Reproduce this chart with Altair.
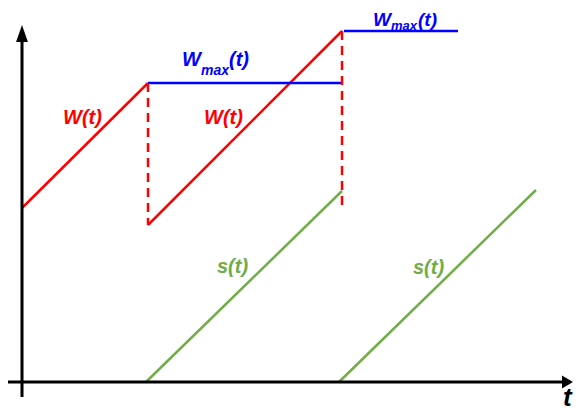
import altair as alt
import pandas as pd

# ---- data (t in time units, W in window units; origin at axis crossing) ----
# W(t): window growth segments
w_seg = ["w1", "w1", "w2", "w2"]
w_t = [0.0, 12.6, 12.6, 32.0]
w_val = [17.4, 29.9, 15.7, 35.1]

# window drops (dashed)
drop_seg = ["d1", "d1", "d2", "d2"]
drop_t = [12.6, 12.6, 32.0, 32.0]
drop_val = [29.9, 15.7, 35.1, 17.2]

# W_max(t)
wmax_seg = ["m1", "m1", "m2", "m2"]
wmax_t = [12.6, 31.9, 32.2, 43.6]
wmax_val = [29.9, 29.9, 35.1, 35.1]

# s(t)
s_seg = ["s1", "s1", "s2", "s2"]
s_t = [12.4, 32.0, 31.7, 51.4]
s_val = [0.0, 19.1, 0.0, 19.2]

# axis lines
axis_seg = ["x", "x", "y", "y"]
axis_t = [-1.5, 54.2, 0.0, 0.0]
axis_val = [0.0, 0.0, -1.5, 34.0]

# arrow heads
arrow_t = [54.55, 0.0]
arrow_val = [0.0, 34.85]
arrow_shape = ["M-0.85,-1L0.85,0L-0.85,1Z", "M0,-1L0.7,1L-0.7,1Z"]
arrow_size = [169, 289]

# labels
lab_text = ["W(t)", "W(t)", "W", "max", "(t)", "W", "max", "(t)", "s(t)", "s(t)", "t"]
lab_t = [4.1, 18.2, 16.0, 17.9, 20.7, 35.1, 36.9, 39.6, 19.5, 39.1, 54.1]
lab_val = [25.8, 25.8, 31.6, 30.7, 31.6, 35.65, 35.25, 35.65, 10.9, 10.8, -2.4]
lab_color = ["#FF0000", "#FF0000", "#0000FF", "#0000FF", "#0000FF",
             "#0000FF", "#0000FF", "#0000FF", "#70AD47", "#70AD47", "#000000"]
lab_size = [20, 20, 20, 14, 20, 19, 13, 19, 20, 20, 26]

RED = "#FF0000"
BLUE = "#0000FF"
GREEN = "#70AD47"

xs = alt.Scale(domain=[-1.4, 55.1], nice=False, zero=False)
ys = alt.Scale(domain=[-2.9, 37.4], nice=False, zero=False)


def seg_df(seg, t, v):
    return pd.DataFrame({"seg": seg, "t": t, "W": v})


def lines(df, color, width, dash=None):
    kw = dict(color=color, strokeWidth=width, strokeCap="butt")
    if dash:
        kw["strokeDash"] = dash
    return alt.Chart(df).mark_line(**kw).encode(
        x=alt.X("t:Q", scale=xs, axis=None),
        y=alt.Y("W:Q", scale=ys, axis=None),
        detail="seg:N",
    )


axes = lines(seg_df(axis_seg, axis_t, axis_val), "#000000", 3)
w_lines = lines(seg_df(w_seg, w_t, w_val), RED, 2.5)
drops = lines(seg_df(drop_seg, drop_t, drop_val), RED, 2.5, [9, 6])
wmax = lines(seg_df(wmax_seg, wmax_t, wmax_val), BLUE, 2.5)
s_lines = lines(seg_df(s_seg, s_t, s_val), GREEN, 2.5)

arrows = alt.layer(*[
    alt.Chart(pd.DataFrame({"t": [arrow_t[i]], "W": [arrow_val[i]]})).mark_point(
        shape=arrow_shape[i], size=arrow_size[i], filled=True, color="#000000",
        opacity=1, strokeWidth=0
    ).encode(
        x=alt.X("t:Q", scale=xs, axis=None),
        y=alt.Y("W:Q", scale=ys, axis=None),
    )
    for i in range(2)
])

labels_df = pd.DataFrame({
    "text": lab_text, "t": lab_t, "W": lab_val,
    "color": lab_color, "size": lab_size,
})
labels = alt.Chart(labels_df).mark_text(
    align="left", baseline="alphabetic", font="Liberation Sans",
    fontStyle="italic", fontWeight="bold",
).encode(
    x=alt.X("t:Q", scale=xs, axis=None),
    y=alt.Y("W:Q", scale=ys, axis=None),
    text="text:N",
    color=alt.Color("color:N", scale=None),
    size=alt.Size("size:Q", scale=None),
)

chart = alt.layer(
    s_lines, w_lines, wmax, drops, axes, arrows, labels
).properties(
    width=565, height=403, padding=0, autosize="none", background="white"
).configure_view(stroke=None)

chart.save("out.html", embed_options={"renderer": "svg", "actions": False})
